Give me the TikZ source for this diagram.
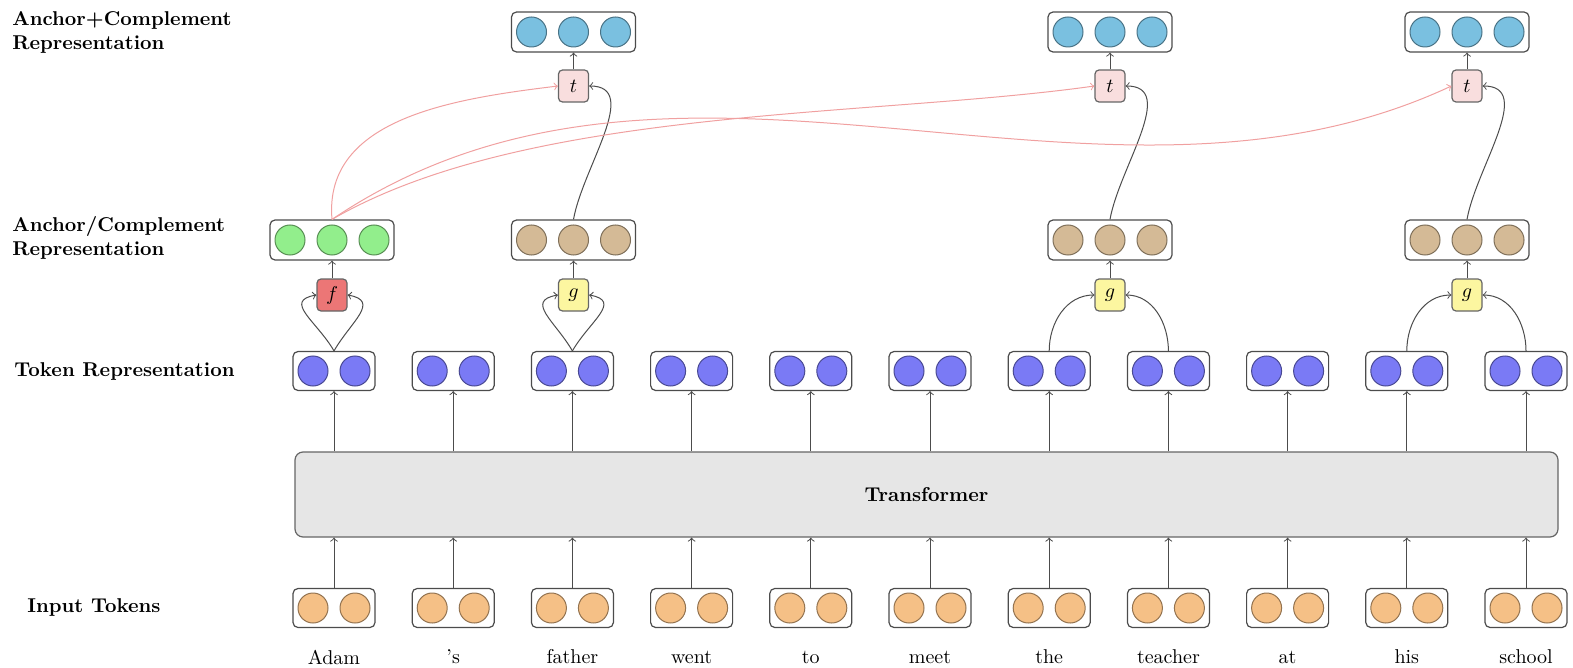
\documentclass[tikz,border=0pt]{standalone}
\usepackage{tikz}

\definecolor{inorange}{RGB}{245,192,134}
\definecolor{tokblue}{RGB}{122,122,245}
\definecolor{ancgreen}{RGB}{146,238,140}
\definecolor{comptan}{RGB}{212,186,150}
\definecolor{topblue}{RGB}{122,192,224}
\definecolor{fred}{RGB}{236,118,118}
\definecolor{gyellow}{RGB}{252,246,160}
\definecolor{tpink}{RGB}{249,222,222}
\definecolor{tfgray}{RGB}{230,230,230}
\definecolor{linkred}{RGB}{240,160,160}

\tikzset{
  vecbox/.style={draw=black!70, fill=white, rounded corners=2.5pt, line width=0.6pt,
    minimum width=41pt, minimum height=19.5pt, inner sep=0pt},
  widebox/.style={vecbox, minimum width=62pt, minimum height=20pt},
  unit/.style={circle, draw=#1!60!black, fill=#1, minimum size=15pt, inner sep=0pt, line width=0.5pt},
  fnbox/.style={draw=black!60, fill=#1, rounded corners=2pt, line width=0.6pt,
    minimum width=15pt, minimum height=16pt, inner sep=0pt},
  rowlabel/.style={anchor=west, align=left, font=\bfseries, inner sep=0pt},
  conn/.style={->, draw=black!70, line width=0.5pt},
  link/.style={->, draw=linkred, line width=0.5pt}
}

\begin{document}
\begin{tikzpicture}[x=0.5pt, y=-0.5pt]
\useasboundingbox (0,0) rectangle (1573,668);

% row labels
\node[rowlabel] (l1) at (12, 32) {Anchor+Complement\\Representation};
\node[rowlabel] (l2) at (12, 238) {Anchor/Complement\\Representation};
\node[rowlabel] (l3) at (14, 371) {Token Representation};
\node[rowlabel] (l4) at (27, 607) {Input Tokens};

% transformer
\node[draw=black!60, fill=tfgray, rounded corners=4pt, line width=0.6pt,
  minimum width=631.5pt, minimum height=42.5pt] (tf) at (926.5, 494.5) {\textbf{Transformer}};

% tokens
\foreach \i/\w in {0/Adam, 1/'s, 2/father, 3/went, 4/to, 5/meet, 6/the, 7/teacher, 8/at, 9/his, 10/school} {
  \node[vecbox] (in\i) at (334+119.2*\i, 608) {};
  \node[unit=inorange] (in\i a) at (313+119.2*\i, 608) {};
  \node[unit=inorange] (in\i b) at (355+119.2*\i, 608) {};
  \node (w\i) at (334+119.2*\i, 657) {\w};
  \node[vecbox] (tok\i) at (334+119.2*\i, 371) {};
  \node[unit=tokblue] (tok\i a) at (313+119.2*\i, 371) {};
  \node[unit=tokblue] (tok\i b) at (355+119.2*\i, 371) {};
  \draw[conn] (in\i.north) -- (in\i.north |- tf.south);
  \draw[conn] (tok\i.south |- tf.north) -- (tok\i.south);
}

% anchor / complement
\node[widebox] (anc) at (332, 240) {};
\node[unit=ancgreen] (anc a) at (290, 240) {};
\node[unit=ancgreen] (anc b) at (332, 240) {};
\node[unit=ancgreen] (anc c) at (374, 240) {};

\foreach \j/\x in {1/573.5, 2/1110, 3/1467} {
  \node[widebox] (cmp\j) at (\x, 240) {};
  \node[unit=comptan] (cmp\j a) at (\x-42, 240) {};
  \node[unit=comptan] (cmp\j b) at (\x, 240) {};
  \node[unit=comptan] (cmp\j c) at (\x+42, 240) {};
  \node[fnbox=gyellow] (g\j) at (\x, 295) {$g$};
  \node[fnbox=tpink] (t\j) at (\x, 86) {$t$};
  \node[widebox] (top\j) at (\x, 32) {};
  \node[unit=topblue] (top\j a) at (\x-42, 32) {};
  \node[unit=topblue] (top\j b) at (\x, 32) {};
  \node[unit=topblue] (top\j c) at (\x+42, 32) {};
  \draw[conn] (g\j.north) -- (cmp\j.south);
  \draw[conn] (t\j.north) -- (top\j.south);
  \draw[conn] (cmp\j.north) to[out=80, in=0] (t\j.east);
}

\node[fnbox=fred] (f) at (332, 295) {$f$};
\draw[conn] (f.north) -- (anc.south);

% inputs of f and g
\draw[conn] (tok0.north) to[out=120, in=190, looseness=1.5] (f.west);
\draw[conn] (tok0.north) to[out=60, in=-10, looseness=1.5] (f.east);
\draw[conn] (tok2.north) to[out=120, in=190, looseness=1.5] (g1.west);
\draw[conn] (tok2.north) to[out=60, in=-10, looseness=1.5] (g1.east);
\draw[conn] (tok6.north) to[out=90, in=180] (g2.west);
\draw[conn] (tok7.north) to[out=90, in=0] (g2.east);
\draw[conn] (tok9.north) to[out=90, in=180] (g3.west);
\draw[conn] (tok10.north) to[out=90, in=0] (g3.east);

% anchor to every t
\draw[link] (anc.north) to[out=95, in=187] (t1.west);
\draw[link] (anc.north) to[out=30, in=188, looseness=0.75] (t2.west);
\draw[link] (anc.north) to[out=34, in=205, out looseness=0.95, in looseness=0.9] (t3.west);

\end{tikzpicture}
\end{document}
